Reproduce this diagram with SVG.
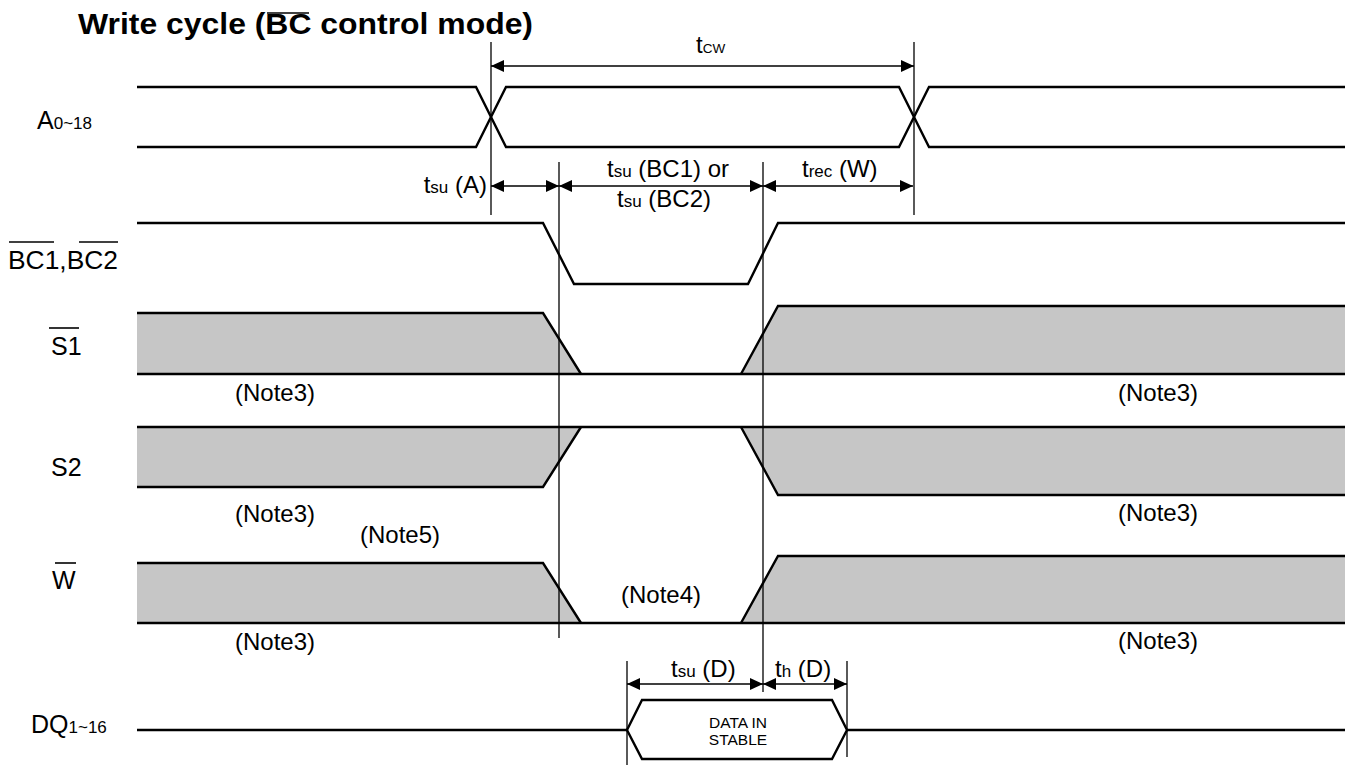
<svg xmlns="http://www.w3.org/2000/svg" width="1347" height="765" viewBox="0 0 1347 765">
<defs>
<marker id="arr" viewBox="0 0 13 12" markerWidth="13" markerHeight="12" refX="13" refY="6" orient="auto-start-reverse" markerUnits="userSpaceOnUse">
<path d="M0,0 L13,6 L0,12 z" fill="#000"/>
</marker>
</defs>
<style>
text{font-family:"Liberation Sans",Arial,sans-serif;fill:#000}
.lbl{font-size:25px}
.t{font-size:24px}
.s{font-size:17px}
.sig{fill:none;stroke:#000;stroke-width:2.4;stroke-linejoin:miter}
.gray{fill:#c6c6c6;stroke:none}
.ref{stroke:#000;stroke-width:1.3;fill:none}
.dim{stroke:#000;stroke-width:1.3;fill:none;marker-start:url(#arr);marker-end:url(#arr)}
.ov{stroke:#000;stroke-width:1.6}
</style>
<rect width="1347" height="765" fill="#fff"/>

<g id="title">
<text x="78" y="34" font-size="29" font-weight="bold" textLength="455" lengthAdjust="spacingAndGlyphs">Write cycle (BC control mode)</text>
<line class="ov" x1="267" y1="13" x2="309" y2="13" stroke-width="2.2"/>
</g>

<g id="sig-A">
<text x="37" y="129"><tspan class="lbl">A</tspan><tspan class="s" font-size="18">0~18</tspan></text>
<path class="sig" d="M137,87 H476 L506,147 H899 L929,87 H1345"/>
<path class="sig" d="M137,147 H476 L506,87 H899 L929,147 H1345"/>
</g>

<g id="sig-BC">
<text class="lbl" x="8" y="269" textLength="110" lengthAdjust="spacingAndGlyphs">BC1,BC2</text>
<line class="ov" x1="9" y1="242" x2="54" y2="242"/>
<line class="ov" x1="79" y1="242" x2="118" y2="242"/>
<path class="sig" d="M137,223 H543 L574,284 H748 L778,223 H1345"/>
</g>

<g id="sig-S1">
<text class="lbl" x="51" y="355">S1</text>
<line class="ov" x1="49" y1="328" x2="79" y2="328"/>
<polygon class="gray" points="137,313 543,313 581,374 137,374"/>
<polygon class="gray" points="741,374 778,306 1345,306 1345,374"/>
<path class="sig" d="M137,313 H543 L581,374"/>
<path class="sig" d="M741,374 L778,306 H1345"/>
<path class="sig" d="M137,374 H1345"/>
<text class="t" x="275" y="401" text-anchor="middle">(Note3)</text>
<text class="t" x="1158" y="401" text-anchor="middle">(Note3)</text>
</g>

<g id="sig-S2">
<text class="lbl" x="51" y="476">S2</text>
<polygon class="gray" points="137,427 581,427 543,487 137,487"/>
<polygon class="gray" points="741,427 1345,427 1345,495 778,495"/>
<path class="sig" d="M137,427 H1345"/>
<path class="sig" d="M137,487 H543 L581,427"/>
<path class="sig" d="M741,427 L778,495 H1345"/>
<text class="t" x="275" y="522" text-anchor="middle">(Note3)</text>
<text class="t" x="1158" y="521" text-anchor="middle">(Note3)</text>
<text class="t" x="400" y="543" text-anchor="middle">(Note5)</text>
</g>

<g id="sig-W">
<text class="lbl" x="52" y="589">W</text>
<line class="ov" x1="55" y1="563" x2="76" y2="563"/>
<polygon class="gray" points="137,563 543,563 581,623 137,623"/>
<polygon class="gray" points="741,623 778,556 1345,556 1345,623"/>
<path class="sig" d="M137,563 H543 L581,623"/>
<path class="sig" d="M741,623 L778,556 H1345"/>
<path class="sig" d="M137,623 H1345"/>
<text class="t" x="661" y="603" text-anchor="middle">(Note4)</text>
<text class="t" x="275" y="650" text-anchor="middle">(Note3)</text>
<text class="t" x="1158" y="649" text-anchor="middle">(Note3)</text>
</g>

<g id="sig-DQ">
<text x="31" y="733"><tspan class="lbl">DQ</tspan><tspan class="s" font-size="18">1~16</tspan></text>
<path class="sig" d="M137,730 H627"/>
<polygon class="sig" points="627,730 642,700 832,700 847,730 832,759 642,759"/>
<path class="sig" d="M847,730 H1345"/>
<text x="738" y="728" font-size="15.5" text-anchor="middle">DATA IN</text>
<text x="738" y="745" font-size="15.5" text-anchor="middle">STABLE</text>
</g>

<g id="connectors">
<line class="ref" x1="491" y1="42" x2="491" y2="215"/>
<line class="ref" x1="914" y1="42" x2="914" y2="215"/>
<line class="ref" x1="559" y1="162" x2="559" y2="638"/>
<line class="ref" x1="763" y1="162" x2="763" y2="692"/>
<line class="ref" x1="627" y1="661" x2="627" y2="765"/>
<line class="ref" x1="847" y1="661" x2="847" y2="757"/>
<line class="dim" x1="491" y1="66" x2="914" y2="66"/>
<line class="dim" x1="491" y1="186" x2="559" y2="186"/>
<line class="dim" x1="559" y1="186" x2="763" y2="186"/>
<line class="dim" x1="763" y1="186" x2="913" y2="186"/>
<line class="dim" x1="627" y1="684" x2="763" y2="684"/>
<line class="dim" x1="763" y1="684" x2="847" y2="684"/>
</g>

<g id="timing-labels">
<text x="696" y="53"><tspan class="t">t</tspan><tspan font-size="13.5">CW</tspan></text>
<text x="487" y="193" text-anchor="end"><tspan class="t">t</tspan><tspan class="s">su</tspan><tspan class="t"> (A)</tspan></text>
<text x="607" y="177"><tspan class="t">t</tspan><tspan class="s">su</tspan><tspan class="t"> (BC1) or</tspan></text>
<text x="617" y="207"><tspan class="t">t</tspan><tspan class="s">su</tspan><tspan class="t"> (BC2)</tspan></text>
<text x="802" y="177"><tspan class="t">t</tspan><tspan class="s">rec</tspan><tspan class="t"> (W)</tspan></text>
<text x="671" y="677"><tspan class="t">t</tspan><tspan class="s">su</tspan><tspan class="t"> (D)</tspan></text>
<text x="775" y="677"><tspan class="t">t</tspan><tspan class="s">h</tspan><tspan class="t"> (D)</tspan></text>
</g>
</svg>
